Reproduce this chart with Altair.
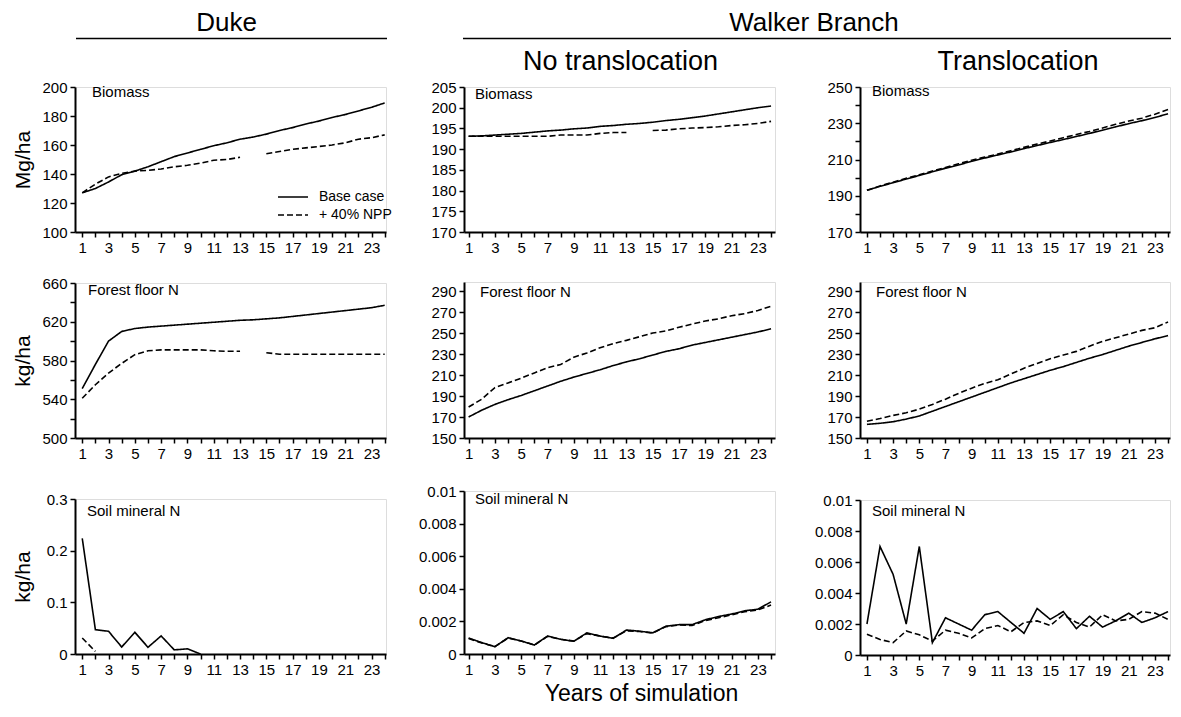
import altair as alt
import pandas as pd

FONT = "Liberation Sans"

years = list(range(1, 25))
series_names = ["Base case", "+ 40% NPP"]
x_ticks = list(range(1, 25))

# Duke
duke_bio_base = [127, 130, 134.5, 139.5, 142, 145, 148.5, 152, 154.5, 157, 159.5, 161.5,
                 164, 165.5, 167.5, 170, 172, 174.5, 176.5, 179, 181, 183.5, 186, 189]
duke_bio_npp = [127, 133, 138, 140.5, 142, 142.5, 143.5, 145, 146, 147.5, 149.5, 150,
                151.5, None, 154, 155.5, 157, 158, 159, 160, 161.5, 164, 165, 167]
duke_ff_base = [551, 576, 600, 610, 613, 614.5, 615.5, 616.5, 617.5, 618.5, 619.5, 620.5,
                621.5, 622, 623, 624, 625.5, 627, 628.5, 630, 631.5, 633, 634.5, 637]
duke_ff_npp = [541, 555, 567, 577, 586, 590, 591, 591, 591, 591, 590, 589.5,
               589.5, None, 588, 586.5, 586.5, 586.5, 586.5, 586.5, 586.5, 586.5, 586.5, 586.5]
duke_soil_base = [0.224, 0.047, 0.044, 0.0135, 0.042, 0.013, 0.035, 0.008, 0.010, 0.0] + [None] * 14
duke_soil_npp = [0.031, 0.005] + [None] * 22

# Walker Branch, no translocation
wb_nt_bio_base = [193.1, 193.2, 193.4, 193.6, 193.8, 194.1, 194.4, 194.6, 194.9, 195.1, 195.5, 195.7,
                  196.0, 196.2, 196.5, 196.9, 197.2, 197.6, 198.0, 198.5, 199.0, 199.5, 200.0, 200.4]
wb_nt_bio_npp = [193.1, 193.1, 193.1, 193.1, 193.1, 193.1, 193.1, 193.4, 193.4, 193.4, 193.8, 194.0,
                 194.0, None, 194.5, 194.6, 194.9, 195.1, 195.2, 195.4, 195.7, 195.9, 196.2, 196.7]
wb_nt_ff_base = [170, 176.5, 182, 186.5, 190.5, 195, 199.5, 204, 208, 211.5, 215, 219,
                 222.5, 225.5, 229, 232.5, 235, 238.5, 241, 243.5, 246, 248.5, 251, 254]
wb_nt_ff_npp = [179.5, 187, 198, 202.5, 207, 212, 217, 220, 227, 231, 236, 240,
                243, 246.5, 250, 252, 255.5, 258.5, 261.5, 263.5, 266.5, 268.5, 271.5, 275.5]
wb_nt_soil_base = [0.00098, 0.0007, 0.00045, 0.001, 0.0008, 0.00055, 0.0011, 0.0009, 0.00078, 0.0013,
                   0.0011, 0.00096, 0.00147, 0.0014, 0.0013, 0.0017, 0.0018, 0.0018, 0.0021, 0.0023,
                   0.00245, 0.00265, 0.00275, 0.0032]
wb_nt_soil_npp = [0.00095, 0.00068, 0.00045, 0.00098, 0.0008, 0.00055, 0.00108, 0.0009, 0.0008, 0.00125,
                  0.0011, 0.00098, 0.00142, 0.00138, 0.00128, 0.00168, 0.00178, 0.00175, 0.00205, 0.00222,
                  0.0024, 0.0026, 0.0027, 0.003]

# Walker Branch, translocation
wb_t_bio_base = [193.0, 195.2, 197.2, 199.2, 201.2, 203.2, 205.2, 207.0, 209.0, 210.8, 212.5, 214.2,
                 216.0, 217.7, 219.4, 221.0, 222.7, 224.4, 226.2, 228.0, 229.8, 231.4, 233.2, 235.2]
wb_t_bio_npp = [193.0, 195.4, 197.5, 199.6, 201.6, 203.6, 205.6, 207.6, 209.6, 211.3, 213.0, 214.8,
                216.7, 218.5, 220.2, 222.0, 223.8, 225.5, 227.4, 229.4, 231.2, 232.8, 235.0, 237.6]
wb_t_ff_base = [163, 164, 165.5, 168, 171, 175.5, 180, 184.5, 189, 193.5, 198, 202.5,
                206.5, 210.5, 214.5, 218, 222, 226, 229.5, 233.5, 237.5, 241, 244.5, 247.5]
wb_t_ff_npp = [166, 168.5, 171.5, 174, 177.5, 182, 187, 192.5, 197.5, 202, 205.5, 211,
               216.5, 221, 225.5, 229, 232.5, 237.5, 242, 245.5, 249, 252.5, 255, 260.5]
wb_t_soil_base = [0.002, 0.007, 0.0052, 0.002, 0.007, 0.0008, 0.0024, 0.002, 0.0016, 0.0026, 0.0028, 0.0021,
                  0.0014, 0.003, 0.0023, 0.0028, 0.0017, 0.0025, 0.0018, 0.0022, 0.0027, 0.0021, 0.0024, 0.0028]
wb_t_soil_npp = [0.00134, 0.001, 0.0008, 0.00155, 0.0013, 0.0009, 0.0016, 0.0014, 0.0011, 0.0017, 0.0019, 0.0015,
                 0.0021, 0.0022, 0.0019, 0.0026, 0.0021, 0.0018, 0.0026, 0.0022, 0.0023, 0.0028, 0.0027, 0.0023]

panel_labels = ["Biomass", "Forest floor N", "Soil mineral N"]
site_titles = ["Duke", "Walker Branch"]
col_titles = ["No translocation", "Translocation"]
y_titles = ["Mg/ha", "kg/ha", "kg/ha"]
x_title = "Years of simulation"


def make_df(base, npp):
    rows = []
    for name, vals in zip(series_names, [base, npp]):
        seg = 0
        for yr, v in zip(years, vals):
            if v is None:
                seg += 1
                continue
            rows.append({"year": yr, "value": v, "series": name, "seg": f"{name}-{seg}"})
    return pd.DataFrame(rows)


def panel(base, npp, label, lpos, xdom, ydom, yvals, ylab_expr, yfmt, width, height,
          extent, ytitle=None, legend=False, xtitle=None, ghost=0):
    df = make_df(base, npp)
    xargs = dict(values=x_ticks, labelExpr="datum.value % 2 == 1 ? datum.label : ''",
                 grid=False, domainColor="black", domainWidth=2, tickColor="black",
                 tickWidth=1.5, tickSize=5, labelFontSize=15, labelColor="black",
                 labelFont=FONT, labelPadding=3, labelFlush=False, labelOverlap=False)
    if xtitle:
        xargs.update(title=xtitle, titleFontSize=23, titleFontWeight="normal", titleFont=FONT,
                     titleColor="black", titlePadding=5, titleX=177)
    else:
        xargs["title"] = None
    xaxis = alt.Axis(**xargs)
    yargs = dict(values=yvals, format=yfmt, grid=False, domainColor="black", domainWidth=2,
                 tickColor="black", tickWidth=1.5, tickSize=5, labelFontSize=15,
                 labelColor="black", labelFont=FONT, labelPadding=3, labelFlush=False,
                 labelOverlap=False, minExtent=extent, maxExtent=extent)
    if ylab_expr:
        yargs["labelExpr"] = ylab_expr
    if ytitle:
        yargs.update(title=ytitle, titleFontSize=21, titleFontWeight="normal", titleFont=FONT,
                     titleColor="black", titlePadding=12)
    elif ghost:
        # invisible spacer title, only reserves room left of the axis
        yargs.update(title=".", titleOpacity=0, titleFontSize=ghost, titlePadding=0)
    else:
        yargs["title"] = None
    yaxis = alt.Axis(**yargs)
    if legend:
        leg = alt.Legend(orient="none", legendX=209, legendY=101, title=None,
                         symbolType="M-1.875,0H1.875", symbolSize=256, symbolStrokeWidth=1.6,
                         symbolStrokeColor="black", symbolFillColor="transparent",
                         labelFontSize=14, labelFont=FONT, labelColor="black", labelOffset=17,
                         rowPadding=2, padding=0)
    else:
        leg = None
    lines = alt.Chart(df).mark_line(color="black", strokeWidth=1.6).encode(
        x=alt.X("year:Q", scale=alt.Scale(domain=xdom, nice=False, zero=False), axis=xaxis),
        y=alt.Y("value:Q", scale=alt.Scale(domain=ydom, nice=False, zero=False), axis=yaxis),
        strokeDash=alt.StrokeDash("series:N", scale=alt.Scale(domain=series_names,
                                                             range=[[1, 0], [6, 3]]), legend=leg),
        detail="seg:N",
    )
    txt = alt.Chart(pd.DataFrame({"label": [label]})).mark_text(
        align="left", baseline="middle", fontSize=15, font=FONT, color="black"
    ).encode(text="label:N", x=alt.value(lpos[0]), y=alt.value(lpos[1]))
    return alt.layer(lines, txt).properties(width=width, height=height)


def indep(c):
    return c.resolve_scale(strokeDash="independent").resolve_legend(strokeDash="independent")


W1, W2, W3 = 311, 311, 310
E1, E2, E3 = 30, 46, 46
dk_x = [0.45, 24.1]
nt_x = [0.65, 24.3]
tr_x = [0.47, 24.15]

p11 = panel(duke_bio_base, duke_bio_npp, panel_labels[0], (17, 5), dk_x, [100, 200],
            list(range(100, 201, 20)), None, "d", W1, 145, E1, ytitle=y_titles[0], legend=True)
p12 = panel(duke_ff_base, duke_ff_npp, panel_labels[1], (13, 7), dk_x, [500, 660],
            list(range(500, 661, 20)), "datum.value % 40 == 20 ? datum.label : ''", "d", W1, 155,
            E1, ytitle=y_titles[1])
p13 = panel(duke_soil_base, duke_soil_npp, panel_labels[2], (12, 12), dk_x, [0, 0.3],
            [0, 0.1, 0.2, 0.3], None, ".1~f", W1, 155, E1, ytitle=y_titles[2])

p21 = panel(wb_nt_bio_base, wb_nt_bio_npp, panel_labels[0], (11, 7), nt_x, [170, 205],
            list(range(170, 206, 5)), None, "d", W2, 145, E2)
p22 = panel(wb_nt_ff_base, wb_nt_ff_npp, panel_labels[1], (16, 10), nt_x, [150, 298.6],
            list(range(150, 291, 20)), None, "d", W2, 156, E2)
p23 = panel(wb_nt_soil_base, wb_nt_soil_npp, panel_labels[2], (11, 8), nt_x, [0, 0.01],
            [0, 0.002, 0.004, 0.006, 0.008, 0.01], None, ".3~f", W2, 163, E2, xtitle=x_title)

p31 = panel(wb_t_bio_base, wb_t_bio_npp, panel_labels[0], (12, 4), tr_x, [170, 250],
            list(range(170, 251, 10)), "datum.value % 20 == 10 ? datum.label : ''", "d", W3, 145,
            E3, ghost=13)
p32 = panel(wb_t_ff_base, wb_t_ff_npp, panel_labels[1], (16, 10), tr_x, [150, 298.6],
            list(range(150, 291, 20)), None, "d", W3, 156, E3, ghost=13)
p33 = panel(wb_t_soil_base, wb_t_soil_npp, panel_labels[2], (12, 11), tr_x, [0, 0.01],
            [0, 0.002, 0.004, 0.006, 0.008, 0.01], None, ".3~f", W3, 155, E3, ghost=13)

col1 = indep(alt.vconcat(p11, indep(alt.vconcat(p12, p13, spacing=61, bounds="flush")),
                         spacing=51, bounds="flush"))
col2 = indep(alt.vconcat(p21, indep(alt.vconcat(p22, p23, spacing=53, bounds="flush")),
                         spacing=50, bounds="flush"))
col3 = indep(alt.vconcat(p31, indep(alt.vconcat(p32, p33, spacing=62, bounds="flush")),
                         spacing=50, bounds="flush"))

panels = indep(alt.hconcat(col1, col2, col3, spacing=24, bounds="full"))

# header (annotation text and underlines)
HX = 1  # x of the Duke plot area inside the header, px


def htext(text, x, y, size):
    return alt.Chart(pd.DataFrame({"t": [text]})).mark_text(
        fontSize=size, font=FONT, color="black", align="center", baseline="alphabetic"
    ).encode(text="t:N", x=alt.value(x), y=alt.value(y))


def hrule(x1, x2, y):
    return alt.Chart(pd.DataFrame({"r": [0]})).mark_rule(color="black", strokeWidth=1.5).encode(
        x=alt.value(x1), x2=alt.value(x2), y=alt.value(y))


x_nt = HX + W1 + 76
x_tr = x_nt + W2 + 87
header = alt.layer(
    htext(site_titles[0], HX + W1 / 2 - 5, 23, 26),
    hrule(HX, HX + W1, 30.5),
    htext(site_titles[1], (x_nt + x_tr + W3) / 2 - 3, 23, 26),
    hrule(x_nt, x_tr + W3, 30.5),
    htext(col_titles[0], x_nt + W2 / 2 + 2, 62, 27),
    htext(col_titles[1], x_tr + W3 / 2 + 2, 62, 27),
).properties(width=1, height=70,
             view=alt.ViewBackground(stroke="transparent", strokeWidth=0, fill="transparent"))

chart = alt.vconcat(header, panels, spacing=9, bounds="flush").properties(
    padding={"left": 3, "top": 0, "right": 0, "bottom": 0}
).configure_view(stroke="transparent", strokeWidth=0).configure(font=FONT)

chart.save("out.html", embed_options={"renderer": "svg", "actions": False})
